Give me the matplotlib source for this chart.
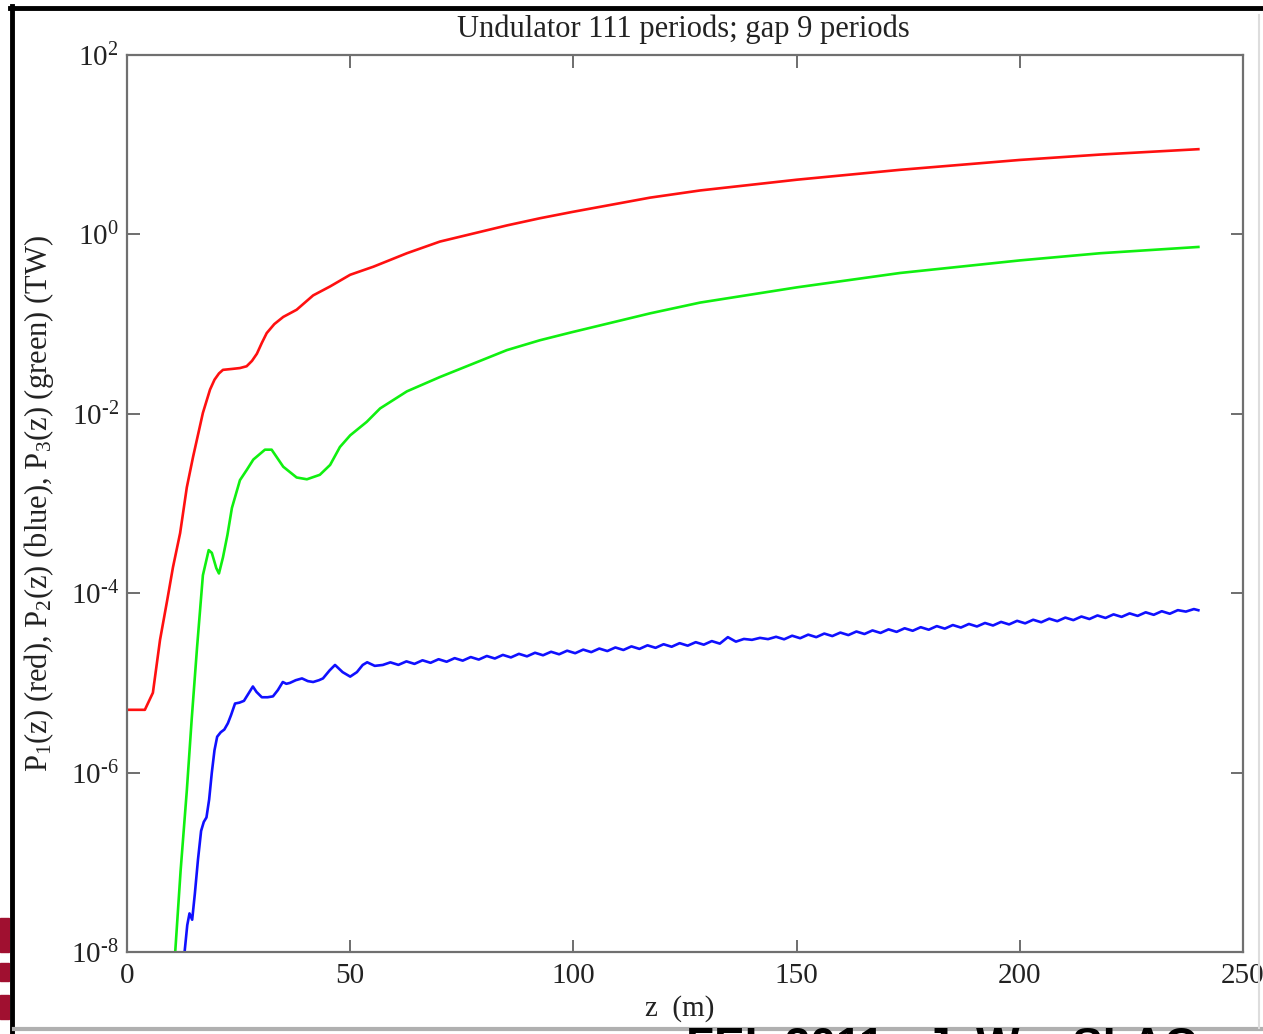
import numpy as np
import matplotlib
matplotlib.use('Agg')
import matplotlib.pyplot as plt
from matplotlib.patches import Rectangle
from matplotlib.lines import Line2D

# z in m, values are log10 of power in TW
red_z = [0.0, 4.0, 5.8, 7.4, 9.0, 10.3, 11.9, 13.4, 14.8, 17.0, 18.6, 19.6, 20.6, 21.5,
         23.5, 25.3, 26.8, 28.0, 29.1, 30.2, 31.3, 33.0, 35.0, 38.0, 41.7, 45.5, 50.0,
         55.2, 62.7, 70.1, 77.6, 85.1, 92.5, 99.7, 117.2, 128.4, 150.1, 173.2, 200.0,
         218.0, 240.0]
red_log = [-5.30, -5.30, -5.11, -4.52, -4.08, -3.71, -3.33, -2.82, -2.48, -1.99, -1.73,
           -1.62, -1.55, -1.51, -1.50, -1.49, -1.47, -1.41, -1.33, -1.21, -1.10, -1.00,
           -0.92, -0.84, -0.68, -0.58, -0.45, -0.36, -0.21, -0.08, 0.01, 0.10, 0.18, 0.25,
           0.41, 0.49, 0.61, 0.72, 0.83, 0.89, 0.95]

green_z = [10.6, 10.8, 12.0, 13.4, 14.5, 15.7, 17.0, 18.3, 19.0, 20.0, 20.6, 21.5, 22.5,
           23.5, 25.3, 26.9, 28.3, 30.9, 32.4, 35.0, 38.0, 40.3, 43.2, 45.5, 47.7, 50.0,
           53.7, 56.7, 62.7, 70.1, 77.6, 85.1, 92.5, 99.7, 117.2, 128.4, 150.1, 173.2,
           200.0, 218.0, 240.0]
green_log = [-8.2, -8.0, -7.1, -6.2, -5.4, -4.6, -3.8, -3.52, -3.55, -3.72, -3.78, -3.6,
             -3.35, -3.05, -2.74, -2.62, -2.51, -2.40, -2.40, -2.59, -2.71, -2.73, -2.68,
             -2.57, -2.37, -2.24, -2.09, -1.94, -1.75, -1.59, -1.44, -1.29, -1.18, -1.09,
             -0.88, -0.76, -0.59, -0.43, -0.29, -0.21, -0.14]

blue_z = [12.4, 12.9, 13.5, 14.0, 14.6, 15.2, 15.9, 16.6, 17.2, 17.8, 18.4, 19.0, 19.6,
          20.2, 21.0, 21.8, 22.6, 23.3, 24.2, 25.2, 26.2, 27.2, 28.2, 29.0, 30.2, 31.5,
          32.7, 33.8, 34.9, 35.7, 36.5, 37.8, 39.2, 40.5, 41.7, 43.0, 43.9, 45.4, 46.6,
          48.3, 50.0, 51.5, 52.8, 53.8, 55.5, 57.3,
          59.0, 60.8, 62.6, 64.4, 66.2, 68.0, 69.8, 71.6, 73.4, 75.2, 77.0, 78.8, 80.6,
          82.4, 84.2, 86.0, 87.8, 89.6, 91.4, 93.2, 95.0, 96.8, 98.6, 100.4, 102.2, 104.0,
          105.8, 107.6, 109.4, 111.2, 113.0, 114.8, 116.6, 118.4, 120.2, 122.0, 123.8,
          125.6, 127.4, 129.2, 131.0, 132.8, 134.6, 136.4, 138.2, 140.0, 141.8, 143.6,
          145.4, 147.2, 149.0, 150.8, 152.6, 154.4, 156.2, 158.0, 159.8, 161.6, 163.4,
          165.2, 167.0, 168.8, 170.6, 172.4, 174.2, 176.0, 177.8, 179.6, 181.4, 183.2,
          185.0, 186.8, 188.6, 190.4, 192.2, 194.0, 195.8, 197.6, 199.4, 201.2, 203.0,
          204.8, 206.6, 208.4, 210.2, 212.0, 213.8, 215.6, 217.4, 219.2, 221.0, 222.8,
          224.6, 226.4, 228.2, 230.0, 231.8, 233.6, 235.4, 237.2, 239.0, 240.0]
blue_log = [-8.2, -8.0, -7.7, -7.57, -7.64, -7.35, -6.97, -6.65, -6.55, -6.50, -6.30, -6.00,
            -5.75, -5.60, -5.55, -5.52, -5.45, -5.36, -5.23, -5.22, -5.20, -5.12, -5.04,
            -5.10, -5.16, -5.16, -5.15, -5.08, -4.99, -5.01, -5.00, -4.97, -4.95, -4.98,
            -4.99, -4.97, -4.95, -4.86, -4.80, -4.88, -4.93, -4.88, -4.80, -4.77, -4.81,
            -4.80,
            -4.771, -4.799, -4.760, -4.788, -4.748, -4.776, -4.736, -4.764, -4.724, -4.752,
            -4.712, -4.740, -4.700, -4.728, -4.688, -4.716, -4.676, -4.704, -4.664, -4.692,
            -4.653, -4.681, -4.641, -4.669, -4.629, -4.657, -4.617, -4.645, -4.605, -4.633,
            -4.593, -4.621, -4.581, -4.609, -4.569, -4.597, -4.557, -4.585, -4.546, -4.574,
            -4.534, -4.562, -4.490, -4.540, -4.510, -4.520, -4.498, -4.512, -4.486, -4.514,
            -4.474, -4.502, -4.462, -4.490, -4.450, -4.478, -4.439, -4.467, -4.427, -4.455,
            -4.415, -4.443, -4.403, -4.431, -4.391, -4.419, -4.379, -4.407, -4.367, -4.395,
            -4.355, -4.383, -4.343, -4.371, -4.332, -4.360, -4.320, -4.348, -4.308, -4.336,
            -4.296, -4.324, -4.284, -4.312, -4.272, -4.300, -4.260, -4.288, -4.248, -4.276,
            -4.236, -4.264, -4.225, -4.253, -4.213, -4.241, -4.201, -4.229, -4.189, -4.205,
            -4.177, -4.190]

ytick_exp = [-8, -6, -4, -2, 0, 2]
xticks = [0, 50, 100, 150, 200, 250]

plt.rcParams['font.family'] = 'Liberation Serif'
plt.rcParams['mathtext.fontset'] = 'custom'
plt.rcParams['mathtext.rm'] = 'Liberation Serif'
plt.rcParams['mathtext.it'] = 'Liberation Serif:italic'
plt.rcParams['mathtext.default'] = 'regular'

fig = plt.figure(figsize=(12.63, 10.34), dpi=100)
W, H = 1263.0, 1034.0
ax = fig.add_axes([127 / W, 1 - 952 / H, (1243 - 127) / W, (952 - 55) / H])

ax.plot(red_z, 10.0 ** np.array(red_log), color='#ff1010', lw=1.9)
ax.plot(green_z, 10.0 ** np.array(green_log), color='#10f010', lw=1.9)
ax.plot(blue_z, 10.0 ** np.array(blue_log), color='#1010ff', lw=1.9)

def exp_label(e):
     # hyphen-style minus like the original figure
     s = str(e).replace('-', '\u2010')
     return r'$10^{%s}$' % s

ax.set_yscale('log')
ax.set_xlim(0, 250)
ax.set_ylim(1e-8, 1e2)
ax.set_yticks([10.0 ** e for e in ytick_exp])
ax.set_yticklabels([exp_label(e) for e in ytick_exp])
ax.yaxis.set_minor_locator(matplotlib.ticker.NullLocator())
ax.set_xticks(xticks)
ax.set_xticklabels([str(v) for v in xticks])
ax.tick_params(direction='in', length=9, width=1.2, color='#555555',
               top=True, right=True, labelcolor='#222222')
ax.tick_params(axis='x', pad=8, labelsize=21)
ax.tick_params(axis='y', pad=6, labelsize=21)
for s in ax.spines.values():
     s.set_color('#707070')
     s.set_linewidth(1.6)

ax.set_xlabel('z  (m)', fontsize=21, color='#222222')
ax.xaxis.set_label_coords(0.495, -0.048)
ax.set_ylabel(r'P$_1$(z) (red), P$_2$(z) (blue), P$_3$(z) (green) (TW)',
              fontsize=22, color='#222222')
ax.yaxis.set_label_coords(-0.064, 0.5)

fig.text(683 / W, 1 - 29 / H, 'Undulator 111 periods; gap 9 periods',
         ha='center', va='center', fontsize=22, color='#222222')

# slide frame around the screenshot
fig.add_artist(Line2D([10 / W, 1], [1 - 8 / H, 1 - 8 / H], color='black', lw=3.5,
                      transform=fig.transFigure))
fig.add_artist(Line2D([12 / W, 12 / W], [0, 1 - 6 / H], color='black', lw=3.5,
                      transform=fig.transFigure))
fig.add_artist(Line2D([14 / W, 1], [1 - 1029 / H, 1 - 1029 / H], color='#b0b0b0', lw=3,
                      transform=fig.transFigure))
fig.add_artist(Line2D([1259 / W, 1259 / W], [1 - 1028 / H, 1 - 15 / H], color='#dddddd',
                      lw=1.5, transform=fig.transFigure))
for y0, h in [(918, 34), (963, 18), (995, 24)]:
     fig.add_artist(Rectangle((0, 1 - (y0 + h) / H), 9 / W, h / H, color='#a01030',
                              transform=fig.transFigure))

fig.text(686 / W, 1 - 1026 / H, 'FEL 2011 - J. Wu, SLAC', family='Liberation Sans',
         weight='bold', fontsize=33, va='top', ha='left', color='black', zorder=5)

fig.savefig('out.png', dpi=100)
